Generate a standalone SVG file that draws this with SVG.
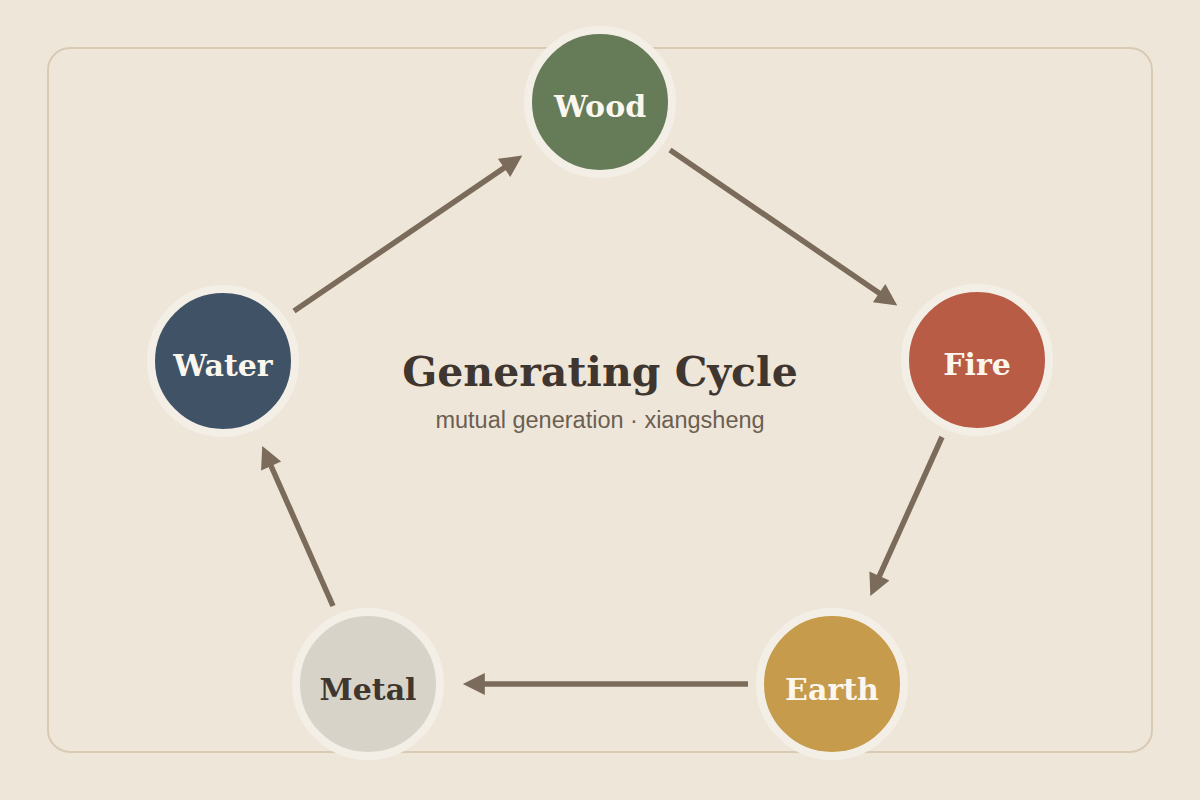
<svg xmlns="http://www.w3.org/2000/svg" width="1200" height="800" viewBox="0 0 1200 800">
<defs>
<marker id="ah" viewBox="0 0 10 10" refX="6" refY="5" markerWidth="24" markerHeight="22" markerUnits="userSpaceOnUse" orient="auto">
<path d="M0,0 L10,5 L0,10 z" fill="#7a6b5a"/>
</marker>
<style>
.ring{stroke:#f4efe6;stroke-width:8}
.lbl{font-family:"DejaVu Serif","Liberation Serif",serif;font-weight:bold;font-size:30px;text-anchor:middle;fill:#fbf7ef}
.conn line{stroke:#7a6b5a;stroke-width:5.5;marker-end:url(#ah)}
</style>
</defs>
<rect width="1200" height="800" fill="#efe6da"/>
<rect x="48" y="48" width="1104" height="704" rx="22" fill="#efe6da" stroke="#d8cab5" stroke-width="2"/>
<g id="connectors" class="conn">
<line x1="670" y1="150" x2="890" y2="300.5"/>
<line x1="942" y1="437" x2="874" y2="588"/>
<line x1="748" y1="684" x2="471.6" y2="684"/>
<line x1="333" y1="606" x2="265.8" y2="454"/>
<line x1="294" y1="311" x2="515" y2="160.5"/>
</g>
<g id="wood"><circle cx="600" cy="102" r="72" class="ring" fill="#667c58"/><text x="600" y="117" class="lbl">Wood</text></g>
<g id="fire"><circle cx="977" cy="360" r="72" class="ring" fill="#b85c45"/><text x="977" y="375" class="lbl">Fire</text></g>
<g id="earth"><circle cx="832" cy="684" r="72" class="ring" fill="#c69c4c"/><text x="832" y="700" class="lbl">Earth</text></g>
<g id="metal"><circle cx="368" cy="684" r="72" class="ring" fill="#d8d3c8"/><text x="368" y="700" class="lbl" style="fill:#3f372f">Metal</text></g>
<g id="water"><circle cx="223" cy="361" r="72" class="ring" fill="#405266"/><text x="223" y="376" class="lbl">Water</text></g>
<g id="title">
<text x="600" y="386" font-family="DejaVu Serif, Liberation Serif, serif" font-weight="bold" font-size="41" text-anchor="middle" fill="#3f372f">Generating Cycle</text>
<text x="600" y="428" font-family="Liberation Sans, Arial, sans-serif" font-size="23.5" text-anchor="middle" fill="#6b5f52">mutual generation · xiangsheng</text>
</g>
</svg>
